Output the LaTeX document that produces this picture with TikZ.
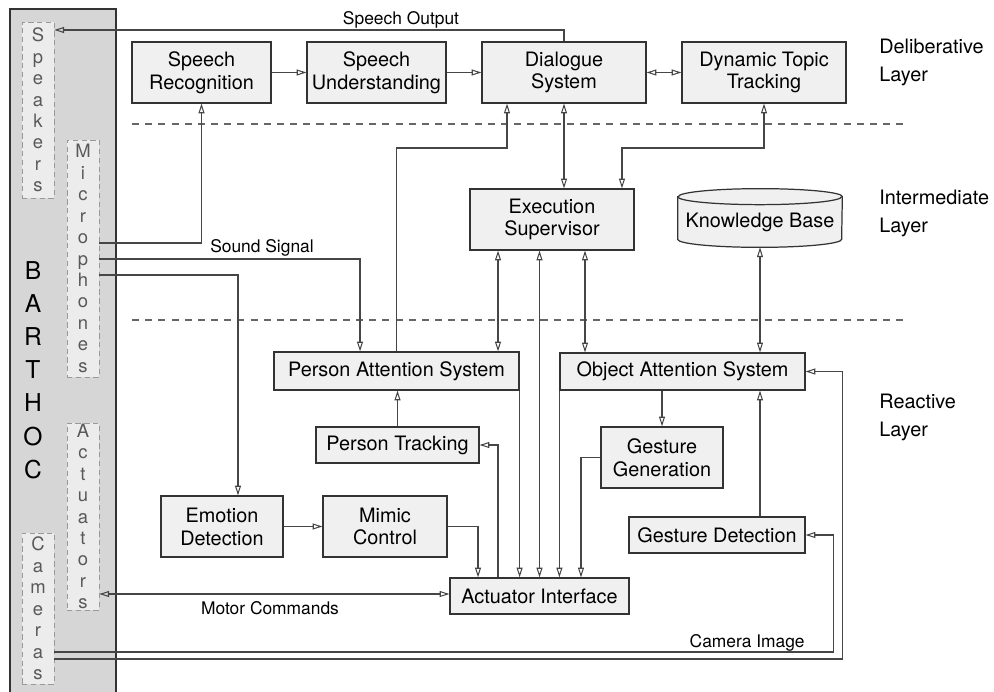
\documentclass[tikz,border=0pt]{standalone}
\usepackage{fontspec}
\setmainfont{TeX Gyre Heros}
\usetikzlibrary{arrows.meta, positioning}

\definecolor{robotgray}{RGB}{214,214,214}
\definecolor{partgray}{RGB}{236,236,236}
\definecolor{boxgray}{RGB}{240,240,240}
\definecolor{linegray}{RGB}{70,70,70}

\tikzset{
	box/.style={draw=black!80, line width=0.7pt, fill=boxgray, rectangle, align=center, inner sep=2pt, minimum height=1.22cm, font=\fontsize{11.3}{13}\selectfont},
	lowbox/.style={box, minimum height=0.74cm},
	part/.style={draw=black!40, dash pattern=on 3pt off 2pt, fill=partgray, minimum width=0.64cm, align=center, inner sep=0pt, text=black!65, font=\fontsize{10.5}{12.2}\selectfont},
	lbl/.style={inner sep=0pt, font=\fontsize{9.9}{12}\selectfont},
	layertext/.style={anchor=west, align=left, inner sep=0pt, font=\fontsize{11.3}{16}\selectfont},
	conn/.style={draw=linegray, line width=0.6pt},
	arr/.style={conn, -{Triangle[open, length=5.5pt, width=3.4pt]}},
	arrs/.style={conn, {Triangle[open, length=5.5pt, width=3.4pt]}-{Triangle[open, length=5.5pt, width=3.4pt]}},
	layersep/.style={draw=black!60, dash pattern=on 4pt off 3.5pt, line width=0.6pt},
}

\begin{document}
\begin{tikzpicture}[x=0.02cm, y=-0.02cm]
	\useasboundingbox (0,0) rectangle (994,692);

	% BARTHOC
	\begin{scope}
		\node (robot) at (63,354.5) [draw=black!80, line width=0.8pt, fill=robotgray, minimum width=2.12cm, minimum height=13.82cm] {};
		\node (rname) at (33,370) [align=center, inner sep=0pt, font=\fontsize{14}{18.9}\selectfont] {B\\A\\R\\T\\H\\O\\C};
		\node (spk) at (38,110) [part, minimum height=3.52cm] {S\\p\\e\\a\\k\\e\\r\\s};
		\node (mic) at (83,258.5) [part, minimum height=4.74cm] {M\\i\\c\\r\\o\\p\\h\\o\\n\\e\\s};
		\node (act) at (83,516.5) [part, minimum height=3.74cm] {A\\c\\t\\u\\a\\t\\o\\r\\s};
		\node (cam) at (38,608.5) [part, minimum height=3.02cm] {C\\a\\m\\e\\r\\a\\s};
	\end{scope}

	% Layers
	\draw[layersep] (132,124) -- (908,124);
	\draw[layersep] (132,320) -- (908,320);
	\node (dlay) at (879,62) [layertext] {Deliberative\\Layer};
	\node (ilay) at (879,213) [layertext] {Intermediate\\Layer};
	\node (rlay) at (879,417) [layertext] {Reactive\\Layer};

	% Deliberative Layer
	\begin{scope}
		\node (sr) at (201.5,72.5) [box, minimum width=2.78cm] {Speech\\Recognition};
		\node (su) at (376.5,72.5) [box, minimum width=2.78cm] {Speech\\Understanding};
		\node (ds) at (564,72.5) [box, minimum width=3.28cm] {Dialogue\\System};
		\node (dtt) at (764,72.5) [box, minimum width=3.28cm] {Dynamic Topic\\Tracking};
	\end{scope}

	% Intermediate Layer
	\begin{scope}
		\node (es) at (552,219.5) [box, minimum width=3.28cm] {Execution\\Supervisor};
		\node (kb) at (760,222) [minimum width=3.28cm, minimum height=1cm] {};
		\draw[draw=black!80, line width=0.7pt, fill=boxgray] (kb.north west) -- ([yshift=0.16cm]kb.south west)
			arc[start angle=180, end angle=360, x radius=1.64cm, y radius=0.16cm] -- (kb.north east)
			arc[start angle=0, end angle=180, x radius=1.64cm, y radius=0.16cm] -- cycle;
		\draw[draw=black!80, line width=0.7pt] (kb.north west) arc[start angle=180, end angle=360, x radius=1.64cm, y radius=0.16cm];
		\node (kbtext) at (kb) [font=\fontsize{11.3}{13}\selectfont] {Knowledge Base};
	\end{scope}

	% Reactive Layer
	\begin{scope}
		\node (pas) at (396.5,371) [lowbox, minimum width=4.9cm, minimum height=0.76cm] {Person Attention System};
		\node (oas) at (682.5,371.5) [lowbox, minimum width=4.9cm] {Object Attention System};
		\node (pt) at (397.5,445) [lowbox, minimum width=3.26cm, minimum height=0.72cm] {Person Tracking};
		\node (gg) at (662,457.5) [box, minimum width=2.44cm] {Gesture\\Generation};
		\node (gd) at (717,535) [lowbox, minimum width=3.52cm, minimum height=0.72cm] {Gesture Detection};
		\node (ed) at (222,526.5) [box, minimum width=2.44cm] {Emotion\\Detection};
		\node (mc) at (385,526.5) [box, minimum width=2.48cm] {Mimic\\Control};
		\node (ai) at (539.5,596) [lowbox, minimum width=3.58cm, minimum height=0.72cm] {Actuator Interface};
	\end{scope}

	% Speech
	\draw[arr] (sr) -- (su);
	\draw[arr] (su) -- (ds);
	\draw[arrs] (ds) -- (dtt);
	\coordinate (spkin) at (spk.east |- 0,30);
	\draw[arr] (ds.north) |- (spkin);
	\node (solbl) at (401,20) [lbl] {Speech Output};

	% Microphones
	\coordinate (mic1) at (mic.east |- 0,243);
	\coordinate (mic2) at (mic.east |- 0,259);
	\coordinate (mic3) at (mic.east |- 0,275);
	\draw[arr] (mic1) -| (sr.south);
	\draw[arr] (mic2) -| ([xshift=-0.73cm]pas.north);
	\draw[arr] (mic3) -| ([xshift=0.32cm]ed.north);
	\node (sslbl) at (262,248) [lbl] {Sound Signal};

	% Supervisor and dialogue
	\coordinate (dsin) at ([xshift=-1.14cm]ds.south);
	\draw[arr] (pas.north) -- (pas.north |- 0,148) -| (dsin);
	\draw[arrs] (ds.south) -- (ds.south |- es.north);
	\coordinate (esin) at ([xshift=1.4cm]es.north);
	\draw[arrs] (dtt.south) -- (dtt.south |- 0,148) -| (esin);
	\draw[arrs] (kb.south) -- (kb.south |- oas.north);

	\coordinate (es1) at ([xshift=-1.08cm]es.south);
	\coordinate (es3) at ([xshift=0.66cm]es.south);
	\draw[arrs] (es1) -- (es1 |- pas.north);
	\draw[arrs] (es3) -- (es3 |- oas.north);
	\draw[arrs] (ai.north) -- (ai.north |- es.south);

	% Actuator Interface
	\draw[arr] (pas.south east) -- (pas.south east |- ai.north);
	\draw[arr] (oas.south west) -- (oas.south west |- ai.north);
	\draw[arr] (gg.west) -| ([xshift=0.83cm]ai.north);
	\draw[arr] (mc.east) -| ([xshift=-1.23cm]ai.north);
	\draw[arr] ([xshift=-0.83cm]ai.north) |- (pt.east);
	\draw[arr] (pt.north) -- (pt.north |- pas.south);
	\draw[arr] (oas.south -| gg.north) -- (gg.north);
	\coordinate (gdout) at ([xshift=0.86cm]gd.north);
	\draw[arr] (gdout) -- (gdout |- oas.south);
	\draw[arr] (ed) -- (mc);

	% Motors
	\coordinate (act1) at (act.east |- 0,594);
	\draw[arrs] (act1) -- (act1 -| ai.west);
	\node (mclbl) at (270,608) [lbl] {Motor Commands};

	% Cameras
	\coordinate (cam1) at (cam.east |- 0,652);
	\coordinate (cam2) at (cam.east |- 0,659);
	\draw[arr] (cam1) -| ([xshift=0.56cm]gd.east) -- (gd.east);
	\draw[arr] (cam2) -| ([xshift=0.74cm]oas.east) -- (oas.east);
	\node (cilbl) at (805,647) [lbl, anchor=base east] {Camera Image};

\end{tikzpicture}
\end{document}
